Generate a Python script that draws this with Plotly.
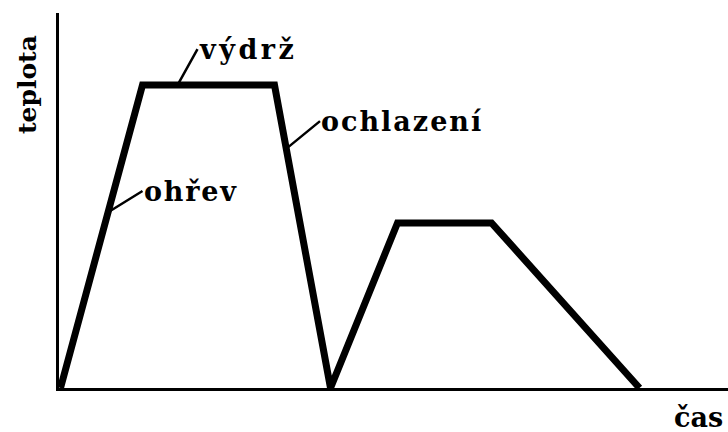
import plotly.graph_objects as go

# time (arbitrary units) and temperature (arbitrary units) of the heat-treatment cycle
time = [0.15, 8.35, 21.55, 27.15, 33.85, 43.25, 58.05]
temp = [0, 100, 100, 0, 54.5, 54.5, 0]

# stage labels: text, point on the curve (time, temp), text offset in px
labels = ["výdrž", "ochlazení", "ohřev"]
label_time = [11.85, 22.8, 4.95]
label_temp = [100, 79.2, 58.1]
label_dx = [20, 33, 34]
label_dy = [-36, -27, -21]
label_spacing = [3.5, 2.0, 1.8]

x_title = "čas"
y_title = "teplota"

FONT = "DejaVu Serif"


def spaced(s, px):
    return f'<b><span style="letter-spacing:{px}px">{s}</span></b>'


fig = go.Figure()
fig.add_trace(go.Scatter(
    x=time, y=temp, mode="lines",
    line=dict(color="black", width=7),
    hoverinfo="skip", showlegend=False,
))

for t, xv, yv, dx, dy, sp in zip(labels, label_time, label_temp, label_dx, label_dy, label_spacing):
    fig.add_annotation(
        x=xv, y=yv, xref="x", yref="y", text=spaced(t, sp),
        xanchor="left", yanchor="middle",
        showarrow=True, arrowhead=0, arrowwidth=2.5, arrowcolor="black",
        ax=dx, ay=dy, standoff=0, borderpad=0,
        font=dict(family=FONT, size=27, color="black"),
    )

fig.add_annotation(
    x=698 / 728, y=1 - 417 / 432, xref="paper", yref="paper",
    xanchor="center", yanchor="middle",
    text=f"<b>{x_title}</b>", showarrow=False,
    font=dict(family=FONT, size=27, color="black"),
)
fig.add_annotation(
    x=27 / 728, y=1 - 85 / 432, xref="paper", yref="paper",
    xanchor="center", yanchor="middle",
    text=f"<b>{y_title}</b>", showarrow=False, textangle=-90,
    font=dict(family=FONT, size=25, color="black"),
)

fig.update_layout(
    width=728, height=432,
    margin=dict(l=0, r=0, t=0, b=0),
    paper_bgcolor="white", plot_bgcolor="white",
    xaxis=dict(domain=[59 / 728, 1], range=[0, 66.9], showgrid=False,
               zeroline=False, showticklabels=False, ticks="",
               showline=True, linecolor="black", linewidth=3, fixedrange=True),
    yaxis=dict(domain=[44 / 432, 1 - 13 / 432], range=[0, 123.8], showgrid=False,
               zeroline=False, showticklabels=False, ticks="",
               showline=True, linecolor="black", linewidth=3, fixedrange=True),
)

fig.write_html(
    "out.html",
    config={"displayModeBar": False},
    post_script="document.body.style.margin='0';document.body.style.overflow='hidden';",
)
